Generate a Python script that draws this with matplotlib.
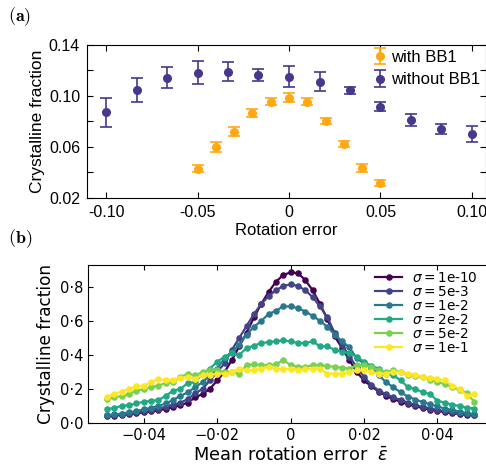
import numpy as np
import matplotlib.pyplot as plt
from matplotlib.ticker import FuncFormatter, MultipleLocator

# ---- panel (a) data ----
x_bb1 = [-0.05, -0.04, -0.03, -0.02, -0.01, 0.0, 0.01, 0.02, 0.03, 0.04, 0.05]
y_bb1 = [0.043, 0.060, 0.0717, 0.0864, 0.0955, 0.0986, 0.0955, 0.0804, 0.0623, 0.0435, 0.0315]
e_bb1 = [0.0024, 0.0038, 0.0035, 0.003, 0.003, 0.0037, 0.003, 0.0025, 0.0025, 0.003, 0.0025]

x_nobb1 = [-0.1, -0.0833, -0.0667, -0.05, -0.0333, -0.0167, 0.0,
           0.0167, 0.0333, 0.05, 0.0667, 0.0833, 0.1]
y_nobb1 = [0.0872, 0.1045, 0.1143, 0.118, 0.119, 0.1165, 0.1151,
           0.1112, 0.1045, 0.0916, 0.0809, 0.0741, 0.0699]
e_nobb1 = [0.0115, 0.0095, 0.008, 0.009, 0.0073, 0.0047, 0.0085,
           0.0072, 0.0028, 0.0033, 0.0046, 0.0038, 0.0063]

# ---- panel (b) data ----
eps = np.round(np.arange(-0.05, 0.0501, 0.002), 4)
labels_b = ['1e-10', '5e-3', '1e-2', '2e-2', '5e-2', '1e-1']
colors_b = ['#440154', '#414487', '#2a788e', '#22a884', '#7ad151', '#fde725']

s_1e10 = [0.040, 0.043, 0.047, 0.052, 0.057, 0.062, 0.068, 0.075, 0.083, 0.093,
          0.105, 0.120, 0.150, 0.170, 0.200, 0.250, 0.300, 0.370, 0.450, 0.530,
          0.620, 0.700, 0.770, 0.830, 0.870, 0.885, 0.880, 0.840, 0.780, 0.700,
          0.610, 0.510, 0.440, 0.370, 0.300, 0.250, 0.215, 0.185, 0.160, 0.140,
          0.125, 0.110, 0.098, 0.088, 0.079, 0.071, 0.064, 0.058, 0.053, 0.049,
          0.045]
s_5e3 = [0.045, 0.048, 0.052, 0.057, 0.063, 0.070, 0.077, 0.085, 0.095, 0.107,
         0.120, 0.140, 0.175, 0.200, 0.250, 0.300, 0.350, 0.430, 0.500, 0.570,
         0.640, 0.700, 0.745, 0.780, 0.805, 0.815, 0.805, 0.780, 0.740, 0.685,
         0.620, 0.530, 0.460, 0.390, 0.330, 0.270, 0.225, 0.190, 0.170, 0.150,
         0.135, 0.120, 0.105, 0.095, 0.085, 0.077, 0.070, 0.063, 0.057, 0.052,
         0.047]
s_1e2 = [0.045, 0.050, 0.055, 0.062, 0.070, 0.080, 0.090, 0.100, 0.115, 0.135,
         0.160, 0.180, 0.210, 0.240, 0.280, 0.320, 0.380, 0.420, 0.460, 0.520,
         0.565, 0.600, 0.640, 0.660, 0.685, 0.685, 0.675, 0.655, 0.630, 0.600,
         0.565, 0.520, 0.480, 0.445, 0.380, 0.350, 0.325, 0.280, 0.240, 0.210,
         0.180, 0.155, 0.138, 0.122, 0.110, 0.097, 0.085, 0.077, 0.067, 0.058,
         0.052]
s_2e2 = [0.080, 0.090, 0.100, 0.105, 0.115, 0.125, 0.130, 0.135, 0.160, 0.190,
         0.200, 0.235, 0.240, 0.290, 0.320, 0.360, 0.390, 0.410, 0.400, 0.440,
         0.455, 0.470, 0.475, 0.480, 0.485, 0.480, 0.470, 0.470, 0.480, 0.450,
         0.450, 0.430, 0.420, 0.410, 0.390, 0.360, 0.335, 0.320, 0.290, 0.280,
         0.250, 0.210, 0.200, 0.180, 0.170, 0.130, 0.120, 0.108, 0.100, 0.090,
         0.085]
s_5e2 = [0.140, 0.150, 0.160, 0.170, 0.190, 0.200, 0.210, 0.220, 0.235, 0.240,
         0.270, 0.290, 0.280, 0.300, 0.310, 0.310, 0.300, 0.300, 0.290, 0.340,
         0.345, 0.340, 0.340, 0.345, 0.370, 0.340, 0.330, 0.330, 0.340, 0.340,
         0.335, 0.330, 0.325, 0.320, 0.340, 0.340, 0.330, 0.310, 0.300, 0.310,
         0.300, 0.285, 0.275, 0.270, 0.255, 0.240, 0.230, 0.210, 0.195, 0.175,
         0.125]
s_1e1 = [0.155, 0.170, 0.185, 0.200, 0.215, 0.220, 0.240, 0.260, 0.250, 0.255,
         0.265, 0.270, 0.260, 0.280, 0.285, 0.290, 0.290, 0.300, 0.320, 0.310,
         0.310, 0.320, 0.330, 0.320, 0.315, 0.320, 0.310, 0.315, 0.320, 0.320,
         0.290, 0.290, 0.290, 0.300, 0.310, 0.310, 0.300, 0.290, 0.290, 0.300,
         0.300, 0.290, 0.285, 0.270, 0.265, 0.260, 0.250, 0.220, 0.200, 0.160,
         0.170]
series_b = [s_1e10, s_5e3, s_1e2, s_2e2, s_5e2, s_1e1]

fig = plt.figure(figsize=(4.86, 4.70), dpi=100)

# ---------------- panel (a) ----------------
fa = 'Liberation Sans'
ax1 = fig.add_axes([0.179, 0.579, 0.820, 0.3255])
ax1.errorbar(x_bb1, y_bb1, yerr=e_bb1, fmt='o', color='#ffa812', ms=5.5,
             capsize=4, elinewidth=1.2, capthick=1.2, label='with BB1')
ax1.errorbar(x_nobb1, y_nobb1, yerr=e_nobb1, fmt='o', color='#46388c', ms=5.5,
             capsize=4, elinewidth=1.2, capthick=1.2, label='without BB1')
ax1.set_xlim(-0.1104, 0.1074)
ax1.set_ylim(0.02, 0.14)
ax1.set_xticks([-0.1, -0.05, 0, 0.05, 0.1])
ax1.set_xticklabels(['-0.10', '-0.05', '0', '0.05', '0.10'])
ax1.set_yticks(np.arange(0.02, 0.141, 0.02))
ax1.set_yticklabels(['0.02', '', '0.06', '', '0.10', '', '0.14'])
ax1.tick_params(direction='in', top=True, right=True, length=4, width=0.8,
                labelsize=11.5, pad=5)
for lab in ax1.get_xticklabels() + ax1.get_yticklabels():
    lab.set_family(fa)
ax1.set_xlabel('Rotation error', fontsize=12, family=fa, labelpad=2)
ax1.set_ylabel('Crystalline fraction', fontsize=12.5, family=fa, labelpad=3)
for sp in ax1.spines.values():
    sp.set_linewidth(0.8)
ax1.legend(loc='upper right', frameon=False, prop={'family': fa, 'size': 12},
           handletextpad=0.2, borderaxespad=0.1, borderpad=0.2,
           labelspacing=0.45, bbox_to_anchor=(1.0, 1.0), handlelength=1.0)

# ---------------- panel (b) ----------------
ax2 = fig.add_axes([0.181, 0.100, 0.834, 0.336])
for s, lab, c in zip(series_b, labels_b, colors_b):
    ax2.plot(eps, s, '-o', color=c, lw=1.6, ms=3.7, label=r'$\sigma=$' + lab)
ax2.set_xlim(-0.0552, 0.0552)
ax2.set_ylim(0, 0.928)
ax2.xaxis.set_major_locator(MultipleLocator(0.02))
ax2.yaxis.set_major_locator(MultipleLocator(0.2))


def dotfmt(v, pos):
    if abs(v) < 1e-9:
        return '0'
    s = '%.2f' % v if abs(v) < 0.1 else '%.1f' % v
    return s.replace('-', '\u2212').replace('.', '\u00b7')


def ydotfmt(v, pos):
    return ('%.1f' % v).replace('.', '\u00b7')


ax2.xaxis.set_major_formatter(FuncFormatter(dotfmt))
ax2.yaxis.set_major_formatter(FuncFormatter(ydotfmt))
ax2.tick_params(direction='in', top=True, right=True, length=3.5, width=0.8,
                labelsize=10.5)
ax2.set_xlabel(r'Mean rotation error  $\bar{\varepsilon}$', fontsize=12.8, labelpad=2)
ax2.set_ylabel('Crystalline fraction', fontsize=12.2, labelpad=3)
ax2.legend(loc='upper right', frameon=False, fontsize=9.8, handlelength=2.0,
           handletextpad=0.7, labelspacing=0.0, borderpad=0.2,
           borderaxespad=0.2, bbox_to_anchor=(0.975, 1.0))

fig.text(0.017, 0.955, r'$\mathbf{(a)}$', fontsize=13, math_fontfamily='cm')
fig.text(0.017, 0.483, r'$\mathbf{(b)}$', fontsize=13, math_fontfamily='cm')

fig.savefig('out.png', dpi=100)
